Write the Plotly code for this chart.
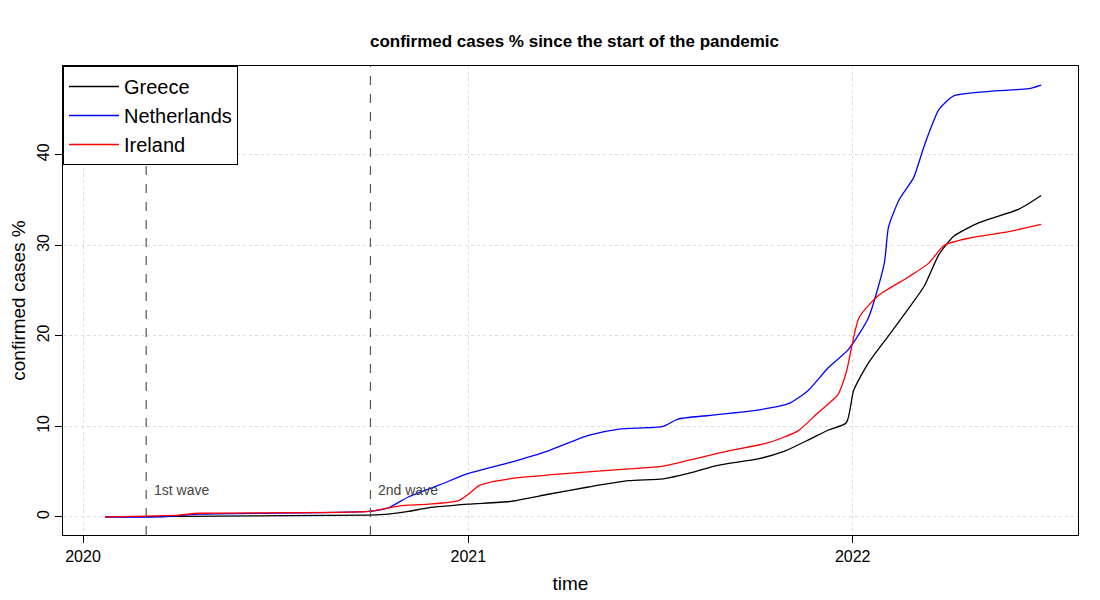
import plotly.graph_objects as go

greece_dates = ["2020-01-22", "2020-09-28", "2020-10-17", "2020-11-05", "2020-11-24", "2021-01-01",
                "2021-02-09", "2021-03-18", "2021-04-25", "2021-06-02", "2021-07-05", "2021-07-29",
                "2021-08-26", "2021-10-03", "2021-10-27", "2021-11-20", "2021-12-09", "2021-12-26",
                "2022-01-02", "2022-01-16", "2022-02-04", "2022-02-23", "2022-03-10", "2022-03-24",
                "2022-04-07", "2022-05-01", "2022-06-08", "2022-06-29"]
greece = [0, 0.2, 0.3, 0.6, 1.0, 1.4, 1.7, 2.5, 3.3, 4.0, 4.2, 4.8, 5.7, 6.4, 7.2, 8.5, 9.6, 10.4,
          14, 17, 20, 23, 25.5, 29, 31, 32.5, 34, 35.5]

nl_dates = ["2020-01-22", "2020-03-13", "2020-04-20", "2020-09-28", "2020-10-17", "2020-11-05",
            "2020-12-04", "2021-01-01", "2021-02-09", "2021-03-18", "2021-04-25", "2021-05-24",
            "2021-07-05", "2021-07-19", "2021-08-17", "2021-10-03", "2021-11-01", "2021-11-20",
            "2021-12-09", "2021-12-28", "2022-01-16", "2022-01-31", "2022-02-04", "2022-02-14",
            "2022-02-28", "2022-03-10", "2022-03-24", "2022-04-07", "2022-05-11", "2022-06-17",
            "2022-06-29"]
netherlands = [0, 0, 0.3, 0.6, 1.0, 2.2, 3.5, 4.8, 6.0, 7.3, 9.0, 9.7, 10.0, 10.8, 11.2, 11.8,
               12.5, 14.0, 16.5, 18.5, 22, 28, 32, 35, 37.5, 41, 45, 46.5, 47, 47.3, 47.7]

ie_dates = ["2020-01-22", "2020-04-01", "2020-04-20", "2020-09-28", "2020-10-27", "2020-11-24",
            "2020-12-23", "2021-01-01", "2021-01-12", "2021-02-09", "2021-04-06", "2021-06-02",
            "2021-07-05", "2021-08-07", "2021-09-05", "2021-10-13", "2021-11-10", "2021-11-29",
            "2021-12-18", "2021-12-26", "2022-01-07", "2022-01-26", "2022-02-23", "2022-03-14",
            "2022-03-29", "2022-04-22", "2022-05-29", "2022-06-29"]
ireland = [0, 0.2, 0.4, 0.6, 1.2, 1.4, 1.8, 2.5, 3.5, 4.2, 4.8, 5.3, 5.6, 6.5, 7.3, 8.2, 9.5,
           11.5, 13.5, 16, 22, 24.5, 26.5, 28, 30, 30.8, 31.5, 32.3]

wave_dates = ["2020-03-01", "2020-09-30"]
wave_labels = ["1st wave", "2nd wave"]

fig = go.Figure()
for name, x, y, col in [("Greece", greece_dates, greece, "black"),
                        ("Netherlands", nl_dates, netherlands, "blue"),
                        ("Ireland", ie_dates, ireland, "red")]:
    fig.add_trace(go.Scatter(x=x, y=y, name=name, mode="lines",
                             line=dict(color=col, width=1.3, shape="spline", smoothing=0.6)))

for d, lab in zip(wave_dates, wave_labels):
    fig.add_vline(x=d, line=dict(color="#555555", width=1.2, dash="dash"))
    fig.add_annotation(x=d, y=3, text=lab, showarrow=False, xanchor="left", xshift=6,
                       font=dict(size=14, color="#444444"))

fig.update_layout(
    width=1100, height=600, template="plotly_white",
    font=dict(family="Liberation Sans, Arial", size=16, color="black"),
    title=dict(text="<b>confirmed cases % since the start of the pandemic</b>",
               x=0.515, y=0.955, xanchor="center", font=dict(size=17)),
    margin=dict(l=55, r=30, t=58, b=73, autoexpand=False),
    legend=dict(x=0, y=1, xanchor="left", yanchor="top", bordercolor="black", borderwidth=1,
                bgcolor="white", font=dict(size=20), tracegroupgap=0, itemwidth=50),
    showlegend=True,
)
axis = dict(showline=True, linecolor="black", mirror=True, ticks="outside", ticklen=7,
            tickcolor="black", gridcolor="#dddddd", griddash="dot", zeroline=False,
            automargin=False)
fig.update_xaxes(axis, range=["2019-12-13", "2022-08-03"], dtick="M12", tickformat="%Y",
                 title=dict(text="time", standoff=12))
fig.update_yaxes(axis, range=[-2, 49.8], tickvals=[0, 10, 20, 30, 40], tickangle=-90,
                 title=dict(text="confirmed cases %", standoff=6))

fig.write_html("out.html")
